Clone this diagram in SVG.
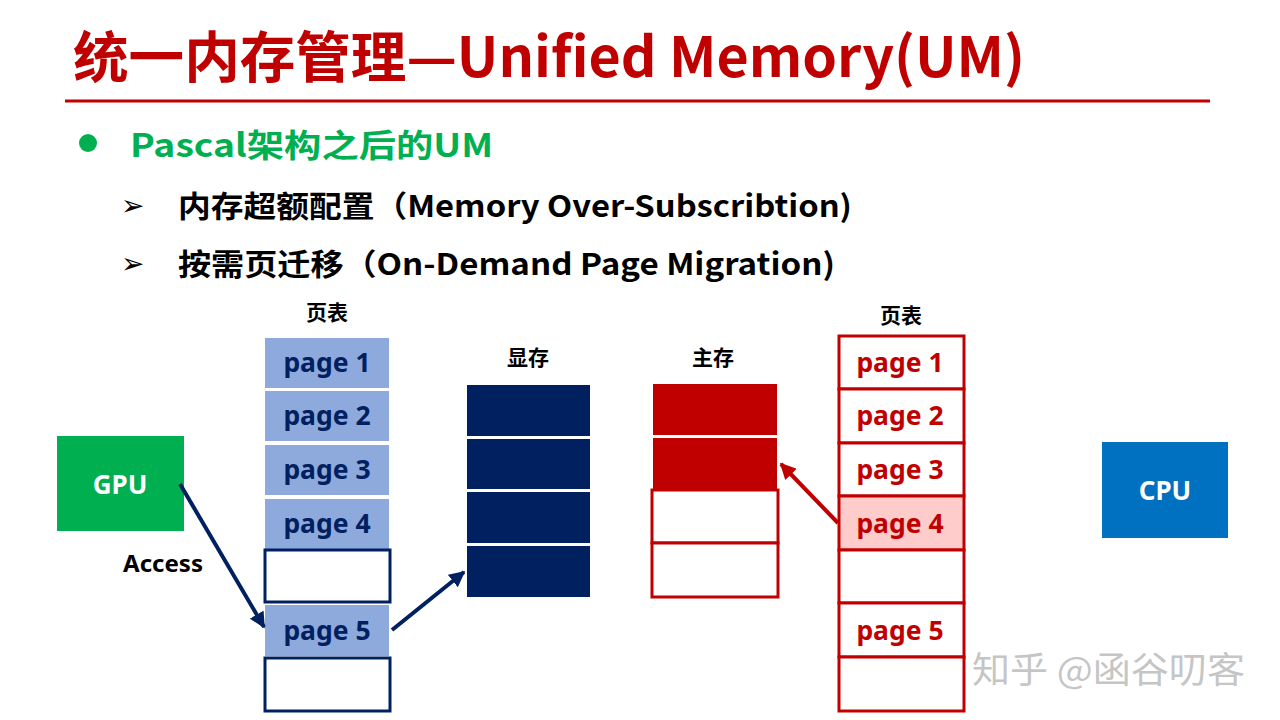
<svg xmlns="http://www.w3.org/2000/svg" width="1280" height="720" viewBox="0 0 1280 720">
<defs>
<style>
.t{font-family:"Noto Sans","Noto Sans CJK SC",sans-serif;font-weight:bold}
.cj{font-family:"Noto Sans CJK SC","Noto Sans",sans-serif;font-weight:bold}
.pg{font-family:"Noto Sans","Noto Sans CJK SC",sans-serif;font-weight:bold;font-size:26.5px;text-anchor:middle}
.lb{fill:#8EA9DB}
.nv{fill:#002060}
.rd{fill:#C00000}
.ro{fill:#fff;stroke:#C00000;stroke-width:3}
.no{fill:#fff;stroke:#002060;stroke-width:3}
.lab{font-family:"Noto Sans CJK SC","Noto Sans",sans-serif;font-weight:bold;font-size:21px;text-anchor:middle;fill:#000}
.bu{font-family:"DejaVu Sans",sans-serif;font-size:28px;fill:#000}
</style>
<marker id="an" viewBox="0 0 10 10" refX="9" refY="5" markerWidth="4" markerHeight="4" orient="auto" markerUnits="strokeWidth"><path d="M0,0 L10,5 L0,10 z" fill="#002060"/></marker>
<marker id="ar" viewBox="0 0 10 10" refX="9" refY="5" markerWidth="4" markerHeight="4" orient="auto" markerUnits="strokeWidth"><path d="M0,0 L10,5 L0,10 z" fill="#C00000"/></marker>
</defs>
<rect width="1280" height="720" fill="#fff"/>

<g id="title">
<text class="cj" x="73" y="77" font-size="55" fill="#C00000" textLength="952" lengthAdjust="spacingAndGlyphs">统一内存管理—Unified Memory(UM)</text>
<line x1="65" y1="101" x2="1210" y2="101" stroke="#C00000" stroke-width="3"/>
</g>

<g id="bullets">
<circle cx="88" cy="143" r="9" fill="#00B050"/>
<text class="cj" x="130" y="157" font-size="32" fill="#00B050" textLength="363" lengthAdjust="spacingAndGlyphs">Pascal架构之后的UM</text>
<text class="bu" x="121" y="215">➢</text>
<text class="cj" x="178" y="217" font-size="30" fill="#000" textLength="674" lengthAdjust="spacingAndGlyphs">内存超额配置（Memory Over-Subscribtion)</text>
<text class="bu" x="121" y="273">➢</text>
<text class="cj" x="178" y="275" font-size="30" fill="#000" textLength="657" lengthAdjust="spacingAndGlyphs">按需页迁移（On-Demand Page Migration)</text>
</g>

<g id="gpu">
<rect x="57" y="436" width="127" height="95" fill="#00B050"/>
<text class="t" x="120" y="494" font-size="26" fill="#fff" text-anchor="middle">GPU</text>
</g>

<g id="cpu">
<rect x="1102" y="442" width="126" height="96" fill="#0070C0"/>
<text class="t" x="1165" y="500" font-size="26" fill="#fff" text-anchor="middle">CPU</text>
</g>

<g id="gpu-page-table">
<text class="lab" x="327" y="320">页表</text>
<rect class="lb" x="265" y="338" width="124" height="50"/>
<text class="pg nv" x="327" y="372">page 1</text>
<rect class="lb" x="265" y="391" width="124" height="50"/>
<text class="pg nv" x="327" y="425">page 2</text>
<rect class="lb" x="265" y="445" width="124" height="50"/>
<text class="pg nv" x="327" y="479">page 3</text>
<rect class="lb" x="265" y="499" width="124" height="50"/>
<text class="pg nv" x="327" y="533">page 4</text>
<rect class="no" x="265" y="550" width="125" height="52"/>
<rect class="lb" x="265" y="605" width="124" height="51"/>
<text class="pg nv" x="327" y="640">page 5</text>
<rect class="no" x="265" y="658" width="125" height="53"/>
</g>

<g id="vram">
<text class="lab" x="528" y="365">显存</text>
<rect class="nv" x="467" y="385" width="123" height="51"/>
<rect class="nv" x="467" y="439" width="123" height="50"/>
<rect class="nv" x="467" y="492" width="123" height="51"/>
<rect class="nv" x="467" y="546" width="123" height="51"/>
</g>

<g id="main-memory">
<text class="lab" x="713" y="365">主存</text>
<rect class="rd" x="653" y="384" width="124" height="51"/>
<rect class="rd" x="653" y="438" width="124" height="54"/>
<rect class="ro" x="652" y="490" width="126" height="53"/>
<rect class="ro" x="652" y="543" width="126" height="54"/>
</g>

<g id="cpu-page-table">
<text class="lab" x="901" y="323">页表</text>
<rect class="ro" x="839" y="336" width="125" height="53"/>
<text class="pg" fill="#C00000" x="900" y="372">page 1</text>
<rect class="ro" x="839" y="389" width="125" height="54"/>
<text class="pg" fill="#C00000" x="900" y="425">page 2</text>
<rect class="ro" x="839" y="443" width="125" height="53"/>
<text class="pg" fill="#C00000" x="900" y="479">page 3</text>
<rect x="839" y="496" width="125" height="54" fill="#FFCCCC" stroke="#C00000" stroke-width="3"/>
<text class="pg" fill="#C00000" x="900" y="533">page 4</text>
<rect class="ro" x="839" y="550" width="125" height="53"/>
<rect class="ro" x="839" y="603" width="125" height="54"/>
<text class="pg" fill="#C00000" x="900" y="640">page 5</text>
<rect class="ro" x="839" y="657" width="125" height="54"/>
</g>

<g id="connectors">
<line x1="180" y1="484" x2="264" y2="627" stroke="#002060" stroke-width="4" marker-end="url(#an)"/>
<line x1="392" y1="630" x2="464" y2="572" stroke="#002060" stroke-width="4" marker-end="url(#an)"/>
<line x1="838" y1="523" x2="781" y2="464" stroke="#C00000" stroke-width="4" marker-end="url(#ar)"/>
</g>

<g id="labels">
<text class="t" x="123" y="572" font-size="23" fill="#000" textLength="80" lengthAdjust="spacingAndGlyphs">Access</text>
<text x="972" y="683" font-family="Noto Sans CJK SC, sans-serif" font-size="36" fill="#bbb" fill-opacity="0.85" textLength="273" lengthAdjust="spacingAndGlyphs">知乎 @函谷叨客</text>
</g>
</svg>
